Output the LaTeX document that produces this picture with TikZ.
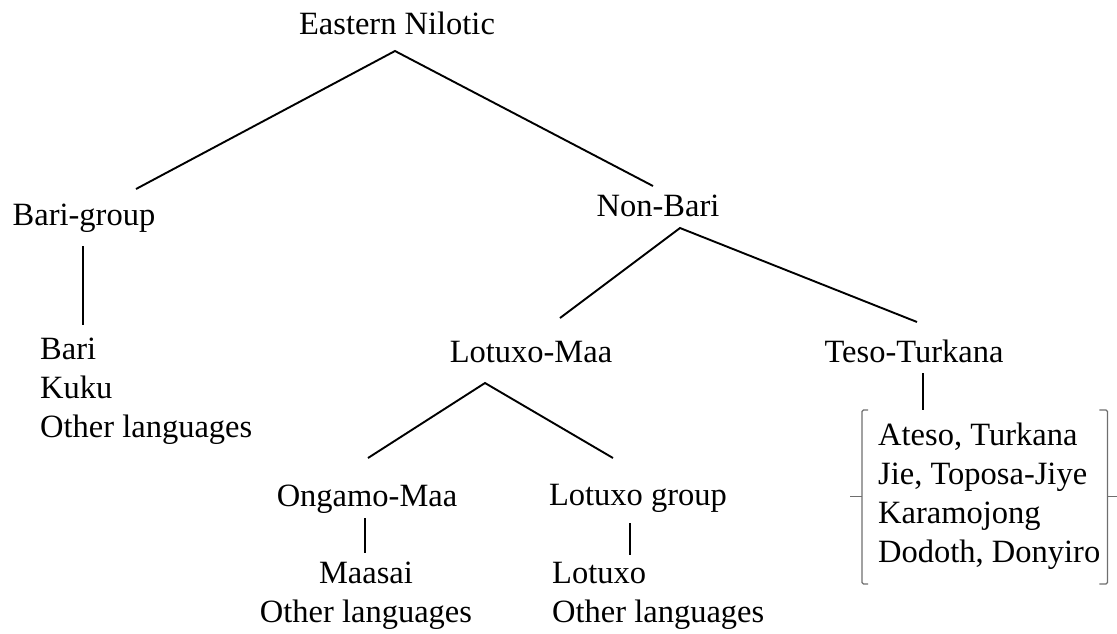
\documentclass[tikz,border=0pt]{standalone}
\usepackage{fontspec}
\setmainfont{Liberation Serif}
\definecolor{BrkGray}{HTML}{6E6E6E}

\begin{document}
\begin{tikzpicture}[x=1pt,y=-1pt,font=\fontsize{32.5}{39}\selectfont]
\tikzset{lbl/.style={inner sep=0pt,anchor=base},
         lst/.style={inner sep=0pt,align=left,anchor=north west},
         br/.style={draw=black,line width=1.9pt},
         brk/.style={draw=BrkGray,line width=1.2pt,rounded corners=1.5pt}}
\useasboundingbox (0,0) rectangle (1117,633);
% group labels, placed at their baselines
\node[lbl] (en) at (397,34) {Eastern Nilotic};
\node[lbl] (bg) at (84,225) {Bari-group};
\node[lbl] (nb) at (658,216) {Non-Bari};
\node[lbl] (lm) at (531,362) {Lotuxo-Maa};
\node[lbl] (tt) at (914,362) {Teso-Turkana};
\node[lbl] (om) at (367,506) {Ongamo-Maa};
\node[lbl] (lg) at (638,505) {Lotuxo group};
% language lists
\node[lst] (bl) at (40,338) {Bari\\Kuku\\Other languages};
\node[lst,align=center,anchor=north] (ml) at (366,562) {Maasai\\Other languages};
\node[lst] (ll) at (552,562) {Lotuxo\\Other languages};
\node[lst] (tl) at (878,423) {Ateso, Turkana\\Jie, Toposa-Jiye\\Karamojong\\Dodoth, Donyiro};
% branches
\draw[br] ([shift={(52,-36)}]bg.base) -- ([shift={(-2,17)}]en.base) -- ([shift={(-5,-30)}]nb.base);
\draw[br] ([shift={(29,-44)}]lm.base) -- ([shift={(22,12)}]nb.base) -- ([shift={(3,-40)}]tt.base);
\draw[br] ([shift={(1,-48)}]om.base) -- ([shift={(-46,21)}]lm.base) -- ([shift={(-25,-47)}]lg.base);
\draw[br] ([shift={(-1,21)}]bg.base) -- ([shift={(43,-13)}]bl.north west);
\draw[br] ([shift={(-2,12)}]om.base) -- ([shift={(-1,-9)}]ml.north);
\draw[br] ([shift={(-8,18)}]lg.base) -- ([shift={(78,-7)}]ll.north west);
\draw[br] ([shift={(9,11)}]tt.base) -- ([shift={(45,-13)}]tl.north west);
% bracket round the Teso-Turkana list
\draw[brk] ([shift={(-10,-13)}]tl.north west) -- ([shift={(-16,-13)}]tl.north west) -- ([shift={(-16,14)}]tl.south west) -- ([shift={(-10,14)}]tl.south west);
\draw[brk] ([xshift=-16pt]tl.west) -- ([xshift=-28pt]tl.west);
\draw[brk] ([shift={(-1,-13)}]tl.north east) -- ([shift={(7,-13)}]tl.north east) -- ([shift={(7,14)}]tl.south east) -- ([shift={(-1,14)}]tl.south east);
\draw[brk] ([xshift=7pt]tl.east) -- ([xshift=17pt]tl.east);
\end{tikzpicture}
\end{document}
